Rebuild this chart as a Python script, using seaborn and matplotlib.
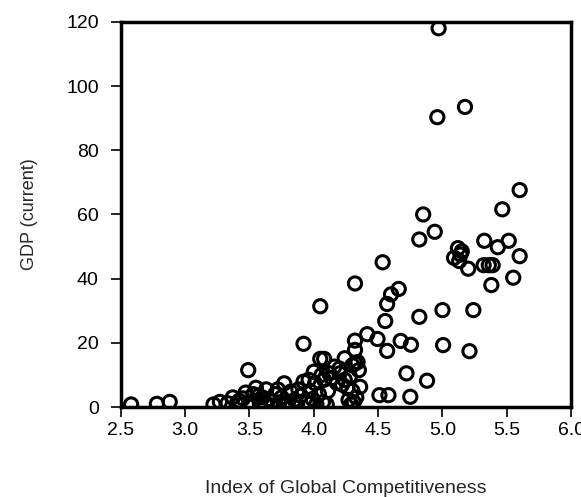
import matplotlib
matplotlib.use("Agg")
import matplotlib.pyplot as plt
import numpy as np
import pandas as pd
import seaborn as sns

# index of global competitiveness vs GDP (current)
indeks = [
    2.58, 2.78, 2.88,
    3.22, 3.27, 3.33, 3.37, 3.42, 3.45, 3.50, 3.53, 3.55, 3.57, 3.58, 3.49, 3.52,
    3.62, 3.65, 3.67, 3.70, 3.72, 3.75, 3.77, 3.80, 3.82, 3.85, 3.87, 3.90, 3.92,
    3.92, 3.95, 3.97, 3.99, 3.68, 3.78,
    4.01, 4.04, 4.05, 4.08, 4.05, 4.07, 4.08, 4.11, 4.12, 4.16, 4.18, 4.20, 4.22,
    4.24, 4.26, 4.24, 4.27, 4.30, 4.32, 4.30, 4.34, 4.33, 4.36, 4.32, 4.32, 4.32,
    4.29, 4.10, 4.02,
    3.40, 3.47, 3.60, 3.63, 3.73, 3.88, 3.96, 4.00, 4.06, 4.14, 4.20, 4.28,
    4.35, 4.31,
    4.97, 4.96, 5.175, 5.60, 5.465, 4.85, 4.94, 4.82, 5.325, 5.43, 5.515, 5.12,
    5.15, 5.14, 5.09, 5.13, 5.20, 5.32, 5.36, 5.39, 5.60, 5.55, 5.38, 4.535,
    4.66, 4.60, 4.57, 4.555, 4.82, 5.00, 5.24, 4.675, 4.755, 5.005, 5.21, 4.57,
    4.72, 4.88, 4.75, 4.51, 4.58, 4.415, 4.495,
]
gdp = [
    0.8, 1.0, 1.6,
    0.8, 1.6, 1.2, 3.0, 2.0, 2.7, 1.5, 4.0, 6.0, 3.5, 1.2, 11.5, 0.9,
    1.0, 2.5, 1.7, 4.0, 5.5, 3.0, 7.4, 1.5, 4.8, 2.2, 0.8, 3.5, 7.9,
    19.7, 1.5, 5.0, 2.5, 0.5, 0.6,
    7.4, 4.0, 15.0, 15.0, 31.4, 1.5, 8.5, 5.0, 10.5, 12.6, 7.5, 10.5, 7.0,
    8.5, 6.0, 15.2, 2.2, 5.0, 13.6, 13.0, 14.0, 3.0, 6.3, 17.8, 20.7, 38.5,
    0.8, 0.8, 0.8,
    1.0, 4.5, 3.0, 5.5, 1.2, 5.5, 8.5, 11.0, 10.0, 9.0, 12.0, 9.5,
    11.5, 1.5,
    118.0, 90.3, 93.5, 67.6, 61.6, 60.0, 54.6, 52.2, 51.8, 49.8, 51.8, 49.5,
    48.5, 47.5, 46.5, 45.5, 43.1, 44.2, 44.2, 44.2, 47.0, 40.3, 38.0, 45.1,
    36.8, 35.1, 32.1, 26.8, 28.1, 30.2, 30.2, 20.6, 19.4, 19.3, 17.4, 17.5,
    10.5, 8.2, 3.2, 3.7, 3.7, 22.7, 21.2,
]

x_ticks = [2.5, 3.0, 3.5, 4.0, 4.5, 5.0, 5.5, 6.0]
y_ticks = [0, 20, 40, 60, 80, 100, 120]

sns.set_style("white")
plt.rcParams["font.family"] = ["Liberation Sans", "DejaVu Sans"]

df = pd.DataFrame({"indeks": indeks, "gdp": gdp})

fig = plt.figure(figsize=(5.81, 4.97), dpi=100)
ax = fig.add_axes([0.208, 0.181, 0.775, 0.775])
sns.scatterplot(data=df, x="indeks", y="gdp", ax=ax, s=90,
                facecolor="none", edgecolor="black", linewidth=2.2)

ax.set_xlim(2.5, 6.0)
ax.set_ylim(0, 120)
ax.set_xticks(x_ticks)
ax.set_xticklabels(["%.1f" % v for v in x_ticks])
ax.set_yticks(y_ticks)
ax.tick_params(axis="both", direction="out", length=7, width=1.2,
               labelsize=14, colors="black", left=True, bottom=True)
ax.tick_params(axis="y", pad=9)
for sp in ax.spines.values():
    sp.set_linewidth(2.5)
    sp.set_color("black")

ax.set_xlabel("Index of Global Competitiveness", fontsize=14, labelpad=30)
ax.set_ylabel("GDP (current)", fontsize=13, labelpad=20)

fig.savefig("out.png", dpi=100)
